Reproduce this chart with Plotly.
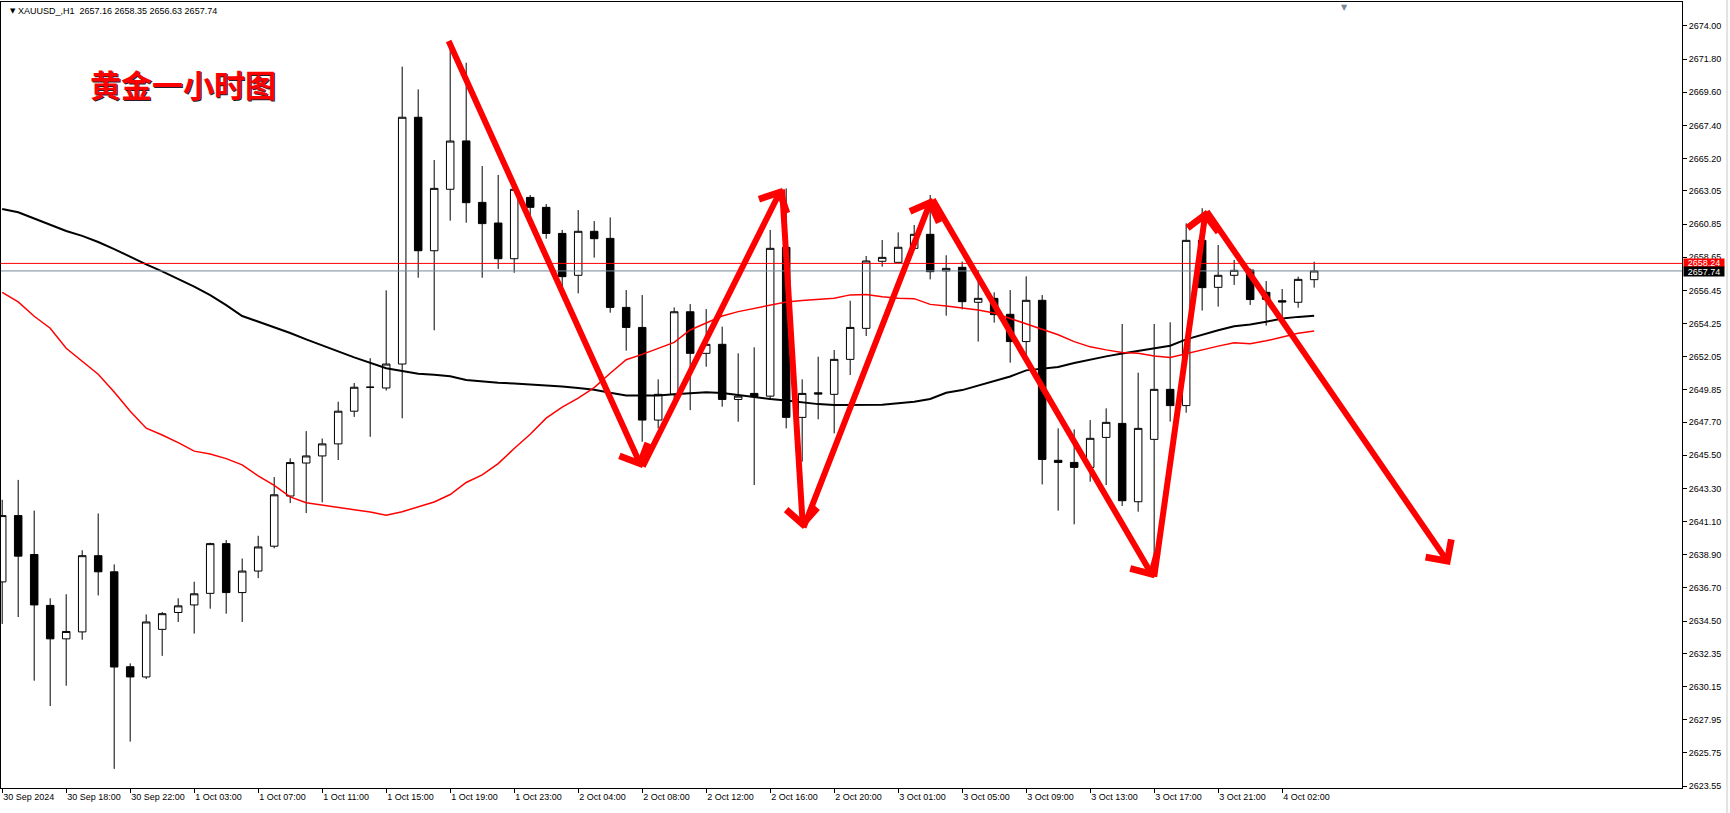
import plotly.graph_objects as go

# ---------------- data ----------------
bars = list(range(83))

opens = [2637.10, 2641.50, 2638.92, 2635.54, 2633.32, 2633.78, 2638.84, 2637.77, 2631.47, 2630.79,
         2633.95, 2635.07, 2635.57, 2636.34, 2639.64, 2636.39, 2637.82, 2639.47, 2642.80, 2644.99,
         2645.46, 2646.26, 2648.43, 2650.02, 2649.97, 2651.56, 2667.94, 2659.08, 2663.16, 2666.37,
         2662.29, 2660.92, 2658.55, 2662.62, 2661.96, 2660.23, 2657.45, 2660.37, 2659.90, 2655.32,
         2653.99, 2647.84, 2649.55, 2655.03, 2652.27, 2652.87, 2649.21, 2649.61, 2649.43, 2659.30,
         2648.02, 2649.65, 2649.55, 2651.87, 2653.93, 2658.38, 2658.31, 2659.24, 2660.17, 2657.74,
         2657.98, 2655.66, 2655.92, 2654.86, 2653.05, 2655.79, 2645.17, 2645.03, 2644.70, 2646.69,
         2647.62, 2642.42, 2646.56, 2649.88, 2648.80, 2659.77, 2656.65, 2657.45, 2657.80, 2656.32,
         2655.76, 2655.66, 2657.16]
highs = [2642.55, 2643.87, 2641.83, 2636.01, 2636.28, 2639.20, 2641.64, 2638.26, 2631.69, 2634.94,
         2635.10, 2636.01, 2637.11, 2639.70, 2639.88, 2638.65, 2640.16, 2644.06, 2645.30, 2647.11,
         2646.62, 2649.06, 2650.30, 2651.95, 2656.45, 2671.30, 2669.79, 2665.10, 2672.90, 2671.56,
         2664.70, 2664.11, 2663.40, 2662.78, 2662.18, 2660.46, 2661.78, 2661.05, 2661.29, 2656.47,
         2656.14, 2650.54, 2655.32, 2655.54, 2655.21, 2654.04, 2652.27, 2652.67, 2660.46, 2663.22,
         2650.54, 2652.05, 2652.49, 2655.76, 2658.73, 2659.79, 2660.30, 2660.79, 2662.78, 2658.78,
         2658.36, 2657.80, 2656.32, 2656.47, 2657.38, 2656.14, 2647.29, 2647.22, 2647.84, 2648.62,
         2654.22, 2650.99, 2654.22, 2654.33, 2660.90, 2661.90, 2659.46, 2658.47, 2657.90, 2657.07,
         2656.54, 2657.36, 2658.35]
lows = [2634.31, 2634.77, 2630.54, 2628.86, 2630.21, 2633.26, 2636.20, 2624.69, 2626.50, 2630.65,
        2632.19, 2634.44, 2633.67, 2635.32, 2634.99, 2634.44, 2637.35, 2639.33, 2642.33, 2641.67,
        2642.38, 2645.19, 2648.05, 2646.73, 2649.80, 2647.96, 2657.29, 2653.80, 2661.08, 2660.94,
        2657.29, 2657.87, 2657.62, 2661.45, 2659.88, 2656.69, 2656.25, 2658.62, 2654.97, 2652.45,
        2646.40, 2647.29, 2649.20, 2648.50, 2651.38, 2648.73, 2647.73, 2643.53, 2649.17, 2647.29,
        2645.08, 2647.89, 2646.96, 2650.83, 2653.42, 2658.02, 2658.31, 2659.24, 2657.18, 2654.77,
        2655.19, 2653.05, 2654.31, 2651.65, 2652.16, 2643.57, 2641.83, 2640.92, 2643.75, 2643.53,
        2642.14, 2641.76, 2638.40, 2647.74, 2648.33, 2655.11, 2655.37, 2656.81, 2655.48, 2654.11,
        2654.70, 2655.30, 2656.63]
closes = [2641.50, 2638.81, 2635.57, 2633.32, 2633.81, 2638.84, 2637.77, 2631.45, 2630.79, 2634.44,
          2634.99, 2635.51, 2636.31, 2639.64, 2636.39, 2637.82, 2639.42, 2642.88, 2645.02, 2645.46,
          2646.26, 2648.43, 2650.02, 2650.02, 2651.56, 2667.94, 2659.08, 2663.22, 2666.36, 2662.27,
          2660.88, 2658.55, 2663.16, 2661.96, 2660.23, 2657.36, 2660.37, 2659.88, 2655.32, 2653.99,
          2647.84, 2649.55, 2655.03, 2652.27, 2652.87, 2649.21, 2649.43, 2649.39, 2659.24, 2648.02,
          2649.61, 2649.57, 2651.87, 2653.99, 2658.40, 2658.64, 2659.31, 2660.17, 2657.69, 2657.91,
          2655.70, 2655.92, 2654.84, 2653.05, 2655.79, 2645.23, 2645.03, 2644.70, 2646.63, 2647.69,
          2642.49, 2647.29, 2649.88, 2648.80, 2659.77, 2656.63, 2657.45, 2657.78, 2655.84, 2655.86,
          2655.68, 2657.18, 2657.74]

ma_black = [2661.85, 2661.63, 2661.22, 2660.82, 2660.39, 2660.07, 2659.66, 2659.19, 2658.66, 2658.18,
            2657.71, 2657.20, 2656.70, 2656.13, 2655.47, 2654.75, 2654.38, 2654.03, 2653.62, 2653.20,
            2652.82, 2652.40, 2652.00, 2651.62, 2651.28, 2651.10, 2650.92, 2650.85, 2650.75, 2650.50,
            2650.40, 2650.32, 2650.27, 2650.21, 2650.14, 2650.07, 2649.97, 2649.86, 2649.65, 2649.48,
            2649.47, 2649.48, 2649.55, 2649.64, 2649.68, 2649.64, 2649.50, 2649.36, 2649.24, 2649.14,
            2649.00, 2648.90, 2648.84, 2648.84, 2648.84, 2648.86, 2648.95, 2649.06, 2649.24, 2649.65,
            2649.83, 2650.14, 2650.41, 2650.73, 2651.14, 2651.26, 2651.37, 2651.63, 2651.86, 2652.07,
            2652.26, 2652.43, 2652.59, 2652.78, 2653.20, 2653.52, 2653.80, 2654.07, 2654.19, 2654.37,
            2654.58, 2654.69, 2654.77]
ma_red = [2656.32, 2655.68, 2654.73, 2653.94, 2652.61, 2651.76, 2650.88, 2649.70, 2648.43, 2647.30,
          2646.85, 2646.34, 2645.78, 2645.59, 2645.28, 2644.87, 2644.13, 2643.51, 2642.74, 2642.35,
          2642.18, 2642.04, 2641.89, 2641.74, 2641.53, 2641.76, 2642.07, 2642.40, 2642.90, 2643.70,
          2644.20, 2644.95, 2645.95, 2646.90, 2647.97, 2648.70, 2649.30, 2650.00, 2650.95, 2651.85,
          2652.20, 2652.60, 2653.00, 2653.82, 2654.26, 2654.75, 2655.04, 2655.26, 2655.50, 2655.68,
          2655.78, 2655.86, 2655.92, 2656.15, 2656.17, 2656.03, 2655.92, 2655.90, 2655.52, 2655.41,
          2655.27, 2655.15, 2654.95, 2654.60, 2654.25, 2653.90, 2653.50, 2653.05, 2652.70, 2652.50,
          2652.33, 2652.27, 2652.10, 2651.99, 2652.25, 2652.50, 2652.75, 2652.97, 2652.90, 2653.10,
          2653.33, 2653.60, 2653.75]

x_tick_bars = list(range(0, 81, 4))
x_tick_labels = ["30 Sep 2024", "30 Sep 18:00", "30 Sep 22:00", "1 Oct 03:00", "1 Oct 07:00",
                 "1 Oct 11:00", "1 Oct 15:00", "1 Oct 19:00", "1 Oct 23:00", "2 Oct 04:00",
                 "2 Oct 08:00", "2 Oct 12:00", "2 Oct 16:00", "2 Oct 20:00", "3 Oct 01:00",
                 "3 Oct 05:00", "3 Oct 09:00", "3 Oct 13:00", "3 Oct 17:00", "3 Oct 21:00",
                 "4 Oct 02:00"]
y_tick_values = [2674.00, 2671.80, 2669.60, 2667.40, 2665.20, 2663.05, 2660.85, 2658.65, 2656.45,
                 2654.25, 2652.05, 2649.85, 2647.70, 2645.50, 2643.30, 2641.10, 2638.90, 2636.70,
                 2634.50, 2632.35, 2630.15, 2627.95, 2625.75, 2623.55]

ask_price = 2658.24
bid_price = 2657.74

# hand-drawn zigzag arrow path (bar index, price)
zigzag_x = [27.86, 39.99, 48.74, 50.05, 58.11, 71.99, 75.23, 90.49]
zigzag_y = [2673.10, 2644.66, 2663.25, 2640.61, 2662.58, 2637.34, 2661.79, 2638.22]

header_text = "XAUUSD_,H1\u00a0\u00a02657.16 2658.35 2656.63 2657.74"
title_text = "黄金一小时图"

FONT = "Liberation Sans, Arial, sans-serif"

# ---------------- figure ----------------
fig = go.Figure()

fig.add_trace(go.Candlestick(
    x=bars, open=opens, high=highs, low=lows, close=closes,
    increasing=dict(line=dict(color="black", width=1), fillcolor="white"),
    decreasing=dict(line=dict(color="black", width=1), fillcolor="black"),
    whiskerwidth=0, showlegend=False, hoverinfo="skip",
))
fig.add_trace(go.Scatter(x=bars, y=ma_black, mode="lines",
                         line=dict(color="black", width=2), showlegend=False, hoverinfo="skip"))
fig.add_trace(go.Scatter(x=bars, y=ma_red, mode="lines",
                         line=dict(color="#ff0000", width=1.5), showlegend=False, hoverinfo="skip"))

shapes = [
    dict(type="line", xref="paper", x0=0, x1=1, yref="y", y0=ask_price, y1=ask_price,
         line=dict(color="#ff0000", width=1)),
    dict(type="line", xref="paper", x0=0, x1=1, yref="y", y0=bid_price, y1=bid_price,
         line=dict(color="#778899", width=1)),
    # window frame bits
    dict(type="line", xref="paper", x0=1.0268, x1=1.0268, yref="paper", y0=-0.035, y1=1.005,
         line=dict(color="#e3e3e3", width=2)),
    dict(type="rect", xref="paper", x0=-0.01, x1=1.04, yref="paper", y0=-0.0335, y1=-0.04,
         fillcolor="#efefef", line=dict(width=0)),
]

annotations = []
for i in range(len(zigzag_x) - 1):
    annotations.append(dict(
        x=zigzag_x[i + 1], y=zigzag_y[i + 1], ax=zigzag_x[i], ay=zigzag_y[i],
        xref="x", yref="y", axref="x", ayref="y", text="", showarrow=True,
        arrowhead=4, arrowsize=1, arrowwidth=6, arrowcolor="#ff0000", standoff=0,
    ))

# header
annotations.append(dict(xref="paper", yref="paper", x=0, y=1, xshift=7, yshift=-9,
                        xanchor="left", yanchor="middle", text="▼", showarrow=False,
                        font=dict(family="DejaVu Sans", size=7, color="black")))
annotations.append(dict(xref="paper", yref="paper", x=0, y=1, xshift=15, yshift=-9,
                        xanchor="left", yanchor="middle", text=header_text, showarrow=False,
                        font=dict(family=FONT, size=9, color="black")))
# Chinese title with shadow
annotations.append(dict(xref="paper", yref="paper", x=0, y=1, xshift=183, yshift=-82,
                        xanchor="center", yanchor="middle", text="<b>" + title_text + "</b>",
                        showarrow=False,
                        font=dict(family="Noto Sans CJK SC", size=31, color="#202030")))
annotations.append(dict(xref="paper", yref="paper", x=0, y=1, xshift=182, yshift=-81,
                        xanchor="center", yanchor="middle", text="<b>" + title_text + "</b>",
                        showarrow=False,
                        font=dict(family="Noto Sans CJK SC", size=31, color="#ff0000")))
# chart shift marker
annotations.append(dict(xref="x", yref="paper", x=83.9, y=1, yshift=1, xanchor="center",
                        yanchor="top", text="▼", showarrow=False,
                        font=dict(family="DejaVu Sans", size=8, color="#7a8796")))
# price labels on axis
annotations.append(dict(xref="paper", yref="y", x=1, xshift=1, y=ask_price, yshift=0.5,
                        xanchor="left", yanchor="middle", text="2658.24", showarrow=False,
                        bgcolor="#ff0000", width=40, height=8, borderpad=0, align="center",
                        font=dict(family=FONT, size=9, color="white")))
annotations.append(dict(xref="paper", yref="y", x=1, xshift=1, y=bid_price, yshift=-0.5,
                        xanchor="left", yanchor="middle", text="2657.74", showarrow=False,
                        bgcolor="black", width=40, height=9, borderpad=0, align="center",
                        font=dict(family=FONT, size=9, color="white")))

fig.update_layout(
    width=1730, height=813,
    margin=dict(l=1, r=48, t=2, b=25, pad=0),
    paper_bgcolor="white", plot_bgcolor="white",
    showlegend=False, boxgap=0.33,
    shapes=shapes, annotations=annotations,
    font=dict(family=FONT, size=9, color="black"),
    xaxis=dict(
        range=[-0.075, 104.99], rangeslider=dict(visible=False),
        tickmode="array", tickvals=x_tick_bars, ticktext=x_tick_labels,
        ticks="outside", ticklen=4, tickcolor="black", tickwidth=1,
        ticklabelposition="outside right",
        showline=True, linecolor="black", linewidth=1, mirror=True,
        showgrid=False, zeroline=False,
        tickfont=dict(family=FONT, size=9, color="black"),
    ),
    yaxis=dict(
        side="right", range=[2623.42, 2675.59],
        tickmode="array", tickvals=y_tick_values,
        ticktext=[f"{v:.2f}" for v in y_tick_values],
        ticks="outside", ticklen=4, tickcolor="black", tickwidth=1,
        showline=True, linecolor="black", linewidth=1, mirror=True,
        showgrid=False, zeroline=False,
        tickfont=dict(family=FONT, size=9, color="black"),
    ),
)

fig.write_html(
    "out.html",
    config={"displayModeBar": False},
    post_script="document.body.style.margin='0';document.body.style.padding='0';"
                "document.body.style.overflow='hidden';",
)
